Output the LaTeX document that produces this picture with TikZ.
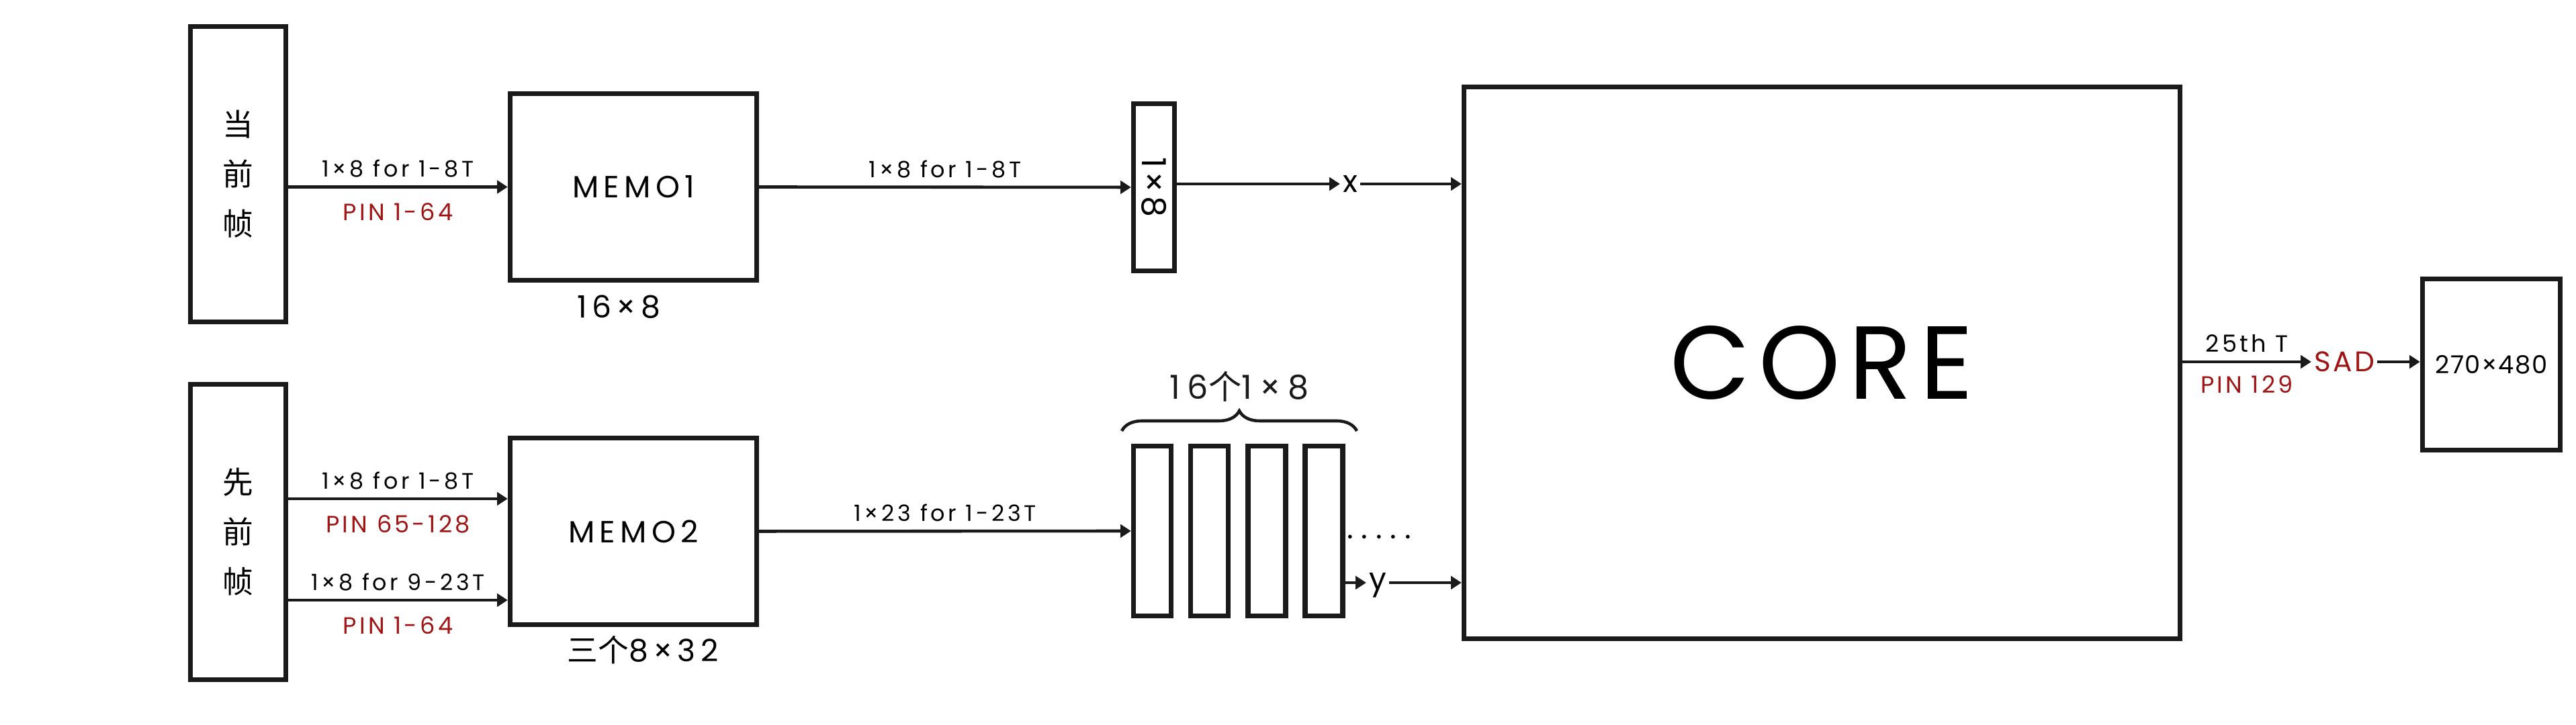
\documentclass[tikz,border=0pt]{standalone}
\usepackage{fontspec}
\setmainfont{Poppins}
\newfontfamily\cjk{Noto Sans CJK SC}
\usetikzlibrary{arrows.meta,decorations.pathreplacing}
\definecolor{pinred}{RGB}{160,20,20}
\definecolor{ink}{RGB}{26,26,26}

\tikzset{
  box/.style={draw=ink, line width=2.1pt, fill=white, inner sep=0pt},
  arr/.style={draw=ink, line width=1.3pt, -{Triangle[length=4.5pt,width=5.5pt]}},
  lbl/.style={font=\fontsize{9.5}{10}\selectfont\addfontfeature{LetterSpace=14}},
  pin/.style={text=pinred, font=\fontsize{10}{11}\selectfont\addfontfeature{LetterSpace=12}},
  big/.style={font=\fontsize{13}{14}\selectfont\addfontfeature{LetterSpace=16}},
  frame/.style={box, minimum width=1.42cm, minimum height=4.40cm, align=center,
    font=\cjk\fontsize{13}{21}\selectfont},
}

\begin{document}
\begin{tikzpicture}
    \useasboundingbox (0,0) rectangle (38.35,10.80);

    % Input frames
    \node[frame] (cur) at (3.545,8.205) {当\\前\\帧};
    \node[frame] (prev) at (3.545,2.875) {先\\前\\帧};

    % Memories
    \node[box, big, minimum width=3.67cm, minimum height=2.78cm] (memoa) at (9.43,8.015) {MEMO1};
    \node[box, big, minimum width=3.67cm, minimum height=2.78cm] (memob) at (9.43,2.885) {MEMO2};
    \node[big] (sizea) at (9.21,6.23) {16×8};
    \node[big] (sizeb) at (9.57,1.12) {{\cjk 三个}8×32};

    % Frame to memory
    \draw[arr] (cur.east |- memoa.west) -- node[lbl, above] {1×8 for 1-8T}
        node[pin, below=3pt] {PIN 1-64} (memoa.west);
    \coordinate (pa) at (0,3.37);
    \coordinate (pb) at (0,1.86);
    \draw[arr] (prev.east |- pa) -- node[lbl, above] {1×8 for 1-8T}
        node[pin, below=3pt] {PIN 65-128} (memob.west |- pa);
    \draw[arr] (prev.east |- pb) -- node[lbl, above] {1×8 for 9-23T}
        node[pin, below=3pt] {PIN 1-64} (memob.west |- pb);

    % Line buffer for x
    \node[box, minimum width=0.61cm, minimum height=2.49cm] (buf) at (17.18,8.01) {};
    \node[rotate=-90, font=\fontsize{14}{15}\selectfont\addfontfeature{LetterSpace=10}] at (buf.center) {1×8};
    \draw[arr] (memoa.east) -- node[lbl, above] {1×8 for 1-8T} (buf.west);

    % Column buffers for y
    \foreach \i in {1,...,4}
        \node[box, minimum width=0.56cm, minimum height=2.53cm] (col\i) at ({17.155+0.852*(\i-1)},2.89) {};
    \draw[arr] (memob.east) -- node[lbl, above] {1×23 for 1-23T} (col1.west);
    \draw[ink, line width=1.3pt, decorate, decoration={brace, amplitude=0.3cm}]
        (16.70,4.38) -- (20.20,4.38) node[midway, above=0.3cm, big, font=\fontsize{14}{15}\selectfont\addfontfeature{LetterSpace=22}] (cnt) {16{\cjk 个}1×8};
    \node[font=\fontsize{13}{14}\selectfont] (dots) at (20.53,2.80)
        {.\hspace{3.4pt}.\hspace{3.4pt}.\hspace{3.4pt}.\hspace{3.4pt}.};

    % Core
    \node[box, minimum width=10.66cm, minimum height=8.22cm,
        font=\fontsize{44}{48}\selectfont\addfontfeature{LetterSpace=8}] (core) at (27.125,5.395) {CORE};

    \node[font=\fontsize{13}{14}\selectfont, inner sep=1pt] (xin) at (20.10,8.06) {x};
    \draw[arr] (buf.east |- xin) -- (xin);
    \draw[arr] (xin) -- (core.west |- xin);

    \node[font=\fontsize{13}{14}\selectfont, inner sep=1pt] (yin) at (20.51,2.08) {y};
    \draw[arr] (col4.east |- 0,2.12) -- (yin.west |- 0,2.12);
    \draw[arr] (yin.east |- 0,2.12) -- (core.west |- 0,2.12);

    % Output
    \node[text=pinred, font=\fontsize{12}{13}\selectfont\addfontfeature{LetterSpace=8}, inner sep=1pt] (sad) at (34.90,5.41) {SAD};
    \draw[arr] (core.east |- sad) -- node[lbl, above, font=\fontsize{10}{11}\selectfont\addfontfeature{LetterSpace=12}] {25th T}
        node[pin, below=2pt] {PIN 129} (sad);
    \node[box, minimum width=2.05cm, minimum height=2.55cm, font=\fontsize{10.5}{12}\selectfont\addfontfeature{LetterSpace=4}] (out) at (37.09,5.37) {270×480};
    \draw[arr] (sad) -- (out.west |- sad);

\end{tikzpicture}
\end{document}
